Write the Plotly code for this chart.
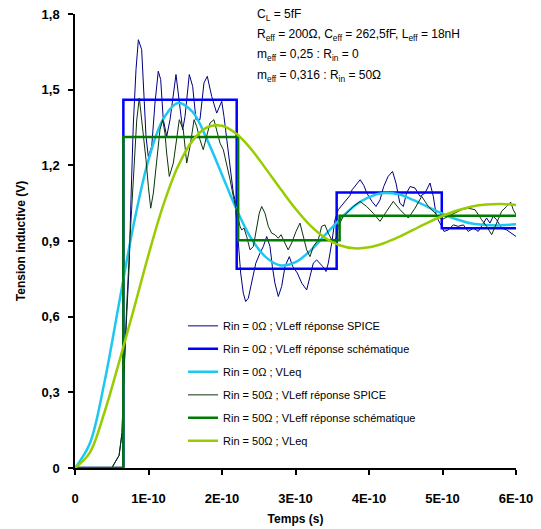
import plotly.graph_objects as go

U = 1e-10  # time unit (s)

# ---- SPICE response, Rin = 0 ohm (time in 1E-10 s, voltage in V)
spice0_t = [0, 0.5, 0.6, 0.64, 0.66, 0.70, 0.74, 0.757, 0.793, 0.83, 0.862, 0.907, 0.929, 0.966, 0.997,
            1.044, 1.088, 1.133, 1.166, 1.201, 1.248, 1.293, 1.374, 1.419, 1.465, 1.497, 1.555, 1.601,
            1.646, 1.70, 1.755, 1.80, 1.86, 1.928, 1.996, 2.027, 2.086, 2.154, 2.177, 2.222, 2.254, 2.29,
            2.322, 2.358, 2.40, 2.424, 2.46, 2.517, 2.562, 2.608, 2.653, 2.685, 2.72, 2.766, 2.812,
            2.857, 2.916, 2.962, 3.025, 3.085, 3.152, 3.197, 3.242, 3.288, 3.333, 3.37, 3.415, 3.446,
            3.493, 3.537, 3.582, 3.66, 3.74, 3.77, 3.85, 3.88, 3.93, 3.97, 4.04, 4.095, 4.15, 4.20,
            4.26, 4.32, 4.367, 4.42, 4.467, 4.51, 4.56, 4.626, 4.694, 4.762, 4.83, 4.875, 4.91, 4.94,
            4.99, 5.02, 5.08, 5.147, 5.215, 5.283, 5.35, 5.42, 5.487, 5.555, 5.60, 5.646, 5.69, 5.737,
            5.805, 5.873, 5.94, 6.0]
spice0_v = [0, 0, 0.05, 0.14, 0.35, 0.6, 0.82, 1.02, 1.36, 1.58, 1.698, 1.659, 1.513, 1.315, 1.235,
            1.275, 1.447, 1.573, 1.54, 1.381, 1.315, 1.381, 1.56, 1.447, 1.341, 1.394, 1.56, 1.513,
            1.381, 1.381, 1.527, 1.553, 1.473, 1.407, 1.454, 1.394, 1.249, 1.09, 1.063, 0.905, 0.773, 0.693,
            0.66, 0.673, 0.733, 0.759, 0.812, 0.852, 0.878, 0.918, 0.878, 0.799, 0.733, 0.68, 0.72,
            0.799, 0.838, 0.799, 0.773, 0.733, 0.706, 0.759, 0.812, 0.825, 0.812, 0.799, 0.779, 0.812,
            0.892, 0.984, 1.024, 1.05, 1.08, 1.103, 1.13, 1.143, 1.12, 1.09, 1.057, 1.037, 1.063, 1.116,
            1.156, 1.176, 1.13, 1.05, 1.037, 1.09, 1.116, 1.11, 1.077, 1.09, 1.13, 1.077, 1.01, 0.984,
            0.958, 0.938, 0.944, 0.964, 0.958, 0.964, 0.938, 0.951, 0.938, 0.971, 0.991, 0.971, 0.998, 0.984,
            0.951, 0.944, 0.931, 0.918]

# ---- schematic response, Rin = 0 ohm
schem0_t = [0, 0.658, 2.20, 3.56, 4.99, 6.0]
schem0_v = [0, 1.46, 0.79, 1.092, 0.951, 0.951]

# ---- equivalent VLeq curves (sampled every 0.2E-10 s)
eq_t = [0, 0.2, 0.4, 0.6, 0.8, 1.0, 1.2, 1.4, 1.6, 1.8, 2.0, 2.2, 2.4, 2.6, 2.8, 3.0,
        3.2, 3.4, 3.6, 3.8, 4.0, 4.2, 4.4, 4.6, 4.8, 5.0, 5.2, 5.4, 5.6, 5.8, 6.0]
eq0_v = [0, 0.096, 0.339, 0.654, 0.968, 1.222, 1.383, 1.447, 1.412, 1.30, 1.163, 1.024, 0.909, 0.835,
         0.803, 0.816, 0.861, 0.923, 0.985, 1.039, 1.074, 1.09, 1.085, 1.063, 1.035, 1.008, 0.985,
         0.969, 0.963, 0.962, 0.966]
eq50_v = [0, 0.06, 0.22, 0.42, 0.63, 0.845, 1.041, 1.195, 1.298, 1.351, 1.357, 1.324, 1.263, 1.185,
          1.105, 1.028, 0.962, 0.913, 0.883, 0.871, 0.875, 0.891, 0.915, 0.944, 0.973, 0.999, 1.021,
          1.037, 1.045, 1.047, 1.043]

# ---- SPICE response, Rin = 50 ohm
spice50_t = [0, 0.5, 0.6, 0.64, 0.665, 0.70, 0.75, 0.80, 0.84, 0.875, 0.92, 0.966, 0.998, 1.03, 1.066,
             1.11, 1.156, 1.193, 1.224, 1.247, 1.283, 1.338, 1.383, 1.419, 1.473, 1.52, 1.565, 1.62,
             1.656, 1.70, 1.745, 1.79, 1.837, 1.89, 1.927, 1.973, 2.018, 2.063, 2.11, 2.154, 2.20, 2.245,
             2.268, 2.299, 2.336, 2.381, 2.426, 2.472, 2.507, 2.54, 2.585, 2.63, 2.676, 2.72, 2.766,
             2.803, 2.857, 2.90, 2.948, 3.007, 3.061, 3.106, 3.152, 3.197, 3.242, 3.31, 3.356, 3.40,
             3.446, 3.514, 3.56, 3.582, 3.65, 3.696, 3.786, 3.878, 3.968, 4.058, 4.15, 4.24, 4.33, 4.422,
             4.535, 4.626, 4.717, 4.807, 4.898, 4.989, 5.079, 5.17, 5.261, 5.351, 5.442, 5.533, 5.601,
             5.669, 5.737, 5.805, 5.873, 5.927, 5.963, 6.0]
spice50_v = [0, 0, 0.05, 0.14, 0.35, 0.62, 0.92, 1.18, 1.38, 1.467, 1.354, 1.222, 1.116, 1.03, 1.09,
             1.222, 1.341, 1.381, 1.328, 1.249, 1.156, 1.209, 1.315, 1.381, 1.341, 1.209, 1.275, 1.381,
             1.354, 1.302, 1.262, 1.315, 1.368, 1.381, 1.341, 1.288, 1.262, 1.209, 1.143, 1.077, 1.01, 0.958,
             0.944, 0.951, 0.918, 0.865, 0.878, 0.958, 1.01, 1.037, 1.01, 0.958, 0.931, 0.925, 0.911,
             0.925, 0.892, 0.865, 0.892, 0.938, 0.971, 0.918, 0.865, 0.838, 0.878, 0.905, 0.958, 0.964,
             0.931, 0.892, 0.918, 0.958, 0.998, 1.01, 1.037, 1.057, 1.037, 1.01, 0.978, 1.018, 1.057, 1.024,
             0.991, 1.03, 1.077, 1.037, 1.01, 0.984, 0.998, 1.01, 1.024, 1.03, 1.024, 0.984, 0.958,
             0.925, 0.971, 1.018, 1.037, 1.054, 1.024, 1.004]

# ---- schematic response, Rin = 50 ohm
schem50_t = [0, 0.658, 2.22, 3.60, 6.0]
schem50_v = [0, 1.312, 0.903, 1.0, 1.0]

legend_names = [
    "Rin = 0Ω ; VLeff réponse SPICE",
    "Rin = 0Ω ; VLeff réponse schématique",
    "Rin = 0Ω ; VLeq",
    "Rin = 50Ω ; VLeff réponse SPICE",
    "Rin = 50Ω ; VLeff réponse schématique",
    "Rin = 50Ω ; VLeq",
]

x_ticks = [0, 1, 2, 3, 4, 5, 6]
x_ticktext = ["0", "1E-10", "2E-10", "3E-10", "4E-10", "5E-10", "6E-10"]
y_ticks = [0, 0.3, 0.6, 0.9, 1.2, 1.5, 1.8]
y_ticktext = ["0", "0,3", "0,6", "0,9", "1,2", "1,5", "1,8"]

info_lines = [
    "C<sub>L</sub> = 5fF",
    "R<sub>eff</sub> = 200Ω, C<sub>eff</sub> = 262,5fF, L<sub>eff</sub> = 18nH",
    "m<sub>eff</sub> = 0,25 : R<sub>in</sub> = 0",
    "m<sub>eff</sub> = 0,316 : R<sub>in</sub> = 50Ω",
]

FONT = "Arial, 'Liberation Sans', sans-serif"


def sc(ts):
    return [t * U for t in ts]


fig = go.Figure()
fig.add_trace(go.Scatter(x=sc(spice0_t), y=spice0_v, mode="lines", name=legend_names[0],
                         legendgroup="a", line=dict(color="#000080", width=1)))
fig.add_trace(go.Scatter(x=sc(schem0_t), y=schem0_v, mode="lines", name=legend_names[1],
                         legendgroup="b", line=dict(color="#0000FF", width=2.5, shape="hv")))
fig.add_trace(go.Scatter(x=sc(eq_t), y=eq0_v, mode="lines", name=legend_names[2],
                         legendgroup="c", line=dict(color="#1CC8F2", width=2.5, shape="spline")))
fig.add_trace(go.Scatter(x=sc(spice50_t), y=spice50_v, mode="lines", name=legend_names[3],
                         legendgroup="d", line=dict(color="#0B330B", width=1)))
fig.add_trace(go.Scatter(x=sc(schem50_t), y=schem50_v, mode="lines", name=legend_names[4],
                         legendgroup="e", line=dict(color="#007A00", width=2.5, shape="hv")))
fig.add_trace(go.Scatter(x=sc(eq_t), y=eq50_v, mode="lines", name=legend_names[5],
                         legendgroup="f", line=dict(color="#99CC00", width=2.5, shape="spline")))

ys = [0.998, 0.954, 0.910, 0.864]
for txt, yy in zip(info_lines, ys):
    fig.add_annotation(text=txt, xref="paper", yref="paper", x=0.408, y=yy,
                       xanchor="left", yanchor="middle", showarrow=False,
                       font=dict(family=FONT, size=12, color="black"))

fig.update_layout(
    width=541, height=529,
    margin=dict(l=75, r=25, t=14, b=61),
    paper_bgcolor="white", plot_bgcolor="white",
    font=dict(family=FONT, color="black"),
    showlegend=True,
    legend=dict(x=0.245, y=0.345, xanchor="left", yanchor="top",
                bgcolor="rgba(0,0,0,0)", font=dict(family=FONT, size=11, color="black"),
                traceorder="grouped", tracegroupgap=4, itemwidth=30),
    xaxis=dict(range=[0, 6 * U], tickvals=sc(x_ticks), ticktext=x_ticktext, automargin=False,
               showgrid=False, zeroline=False, showline=True, linecolor="black", linewidth=1.5,
               ticks="outside", ticklen=5, tickwidth=1.5, tickcolor="black",
               tickfont=dict(family=FONT, size=13, weight="bold", color="black"),
               ticklabelstandoff=13,
               title=dict(text="Temps (s)", standoff=9,
                          font=dict(family=FONT, size=12, weight="bold", color="black"))),
    yaxis=dict(range=[0, 1.8], tickvals=y_ticks, ticktext=y_ticktext, automargin=False,
               showgrid=False, zeroline=False, showline=True, linecolor="black", linewidth=1.5,
               ticks="outside", ticklen=5, tickwidth=1.5, tickcolor="black",
               tickfont=dict(family=FONT, size=13, weight="bold", color="black"),
               ticklabelstandoff=6,
               title=dict(text="Tension inductive (V)", standoff=13,
                          font=dict(family=FONT, size=12, weight="bold", color="black"))),
)

fig.write_html("out.html", config={"displayModeBar": False},
               post_script="document.body.style.margin='0';")
